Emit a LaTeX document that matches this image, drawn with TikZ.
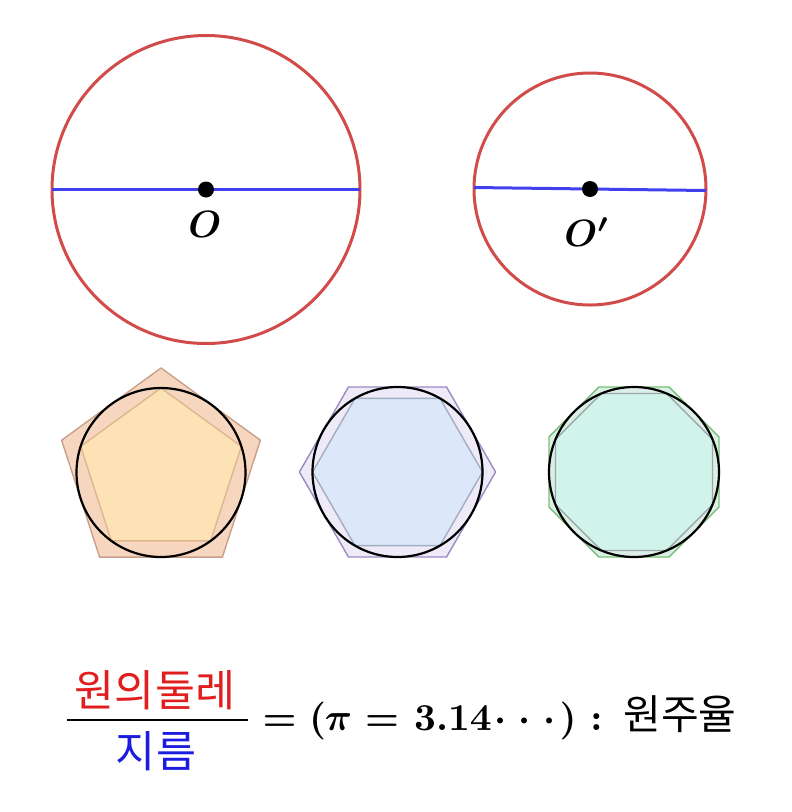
\documentclass[tikz,border=0pt]{standalone}
\usepackage{graphicx}
\usepackage{fontspec}
\newfontfamily\kr{Noto Sans CJK KR}
\definecolor{cred}{HTML}{D24B4B}
\definecolor{cblue}{HTML}{4040EE}
\definecolor{tred}{HTML}{E01E1E}
\definecolor{tblue}{HTML}{1C1CE0}
\definecolor{pOutF}{HTML}{F6D6BE}
\definecolor{pOutD}{HTML}{C9A08A}
\definecolor{pInF}{HTML}{FCE2B4}
\definecolor{pInD}{HTML}{DEB690}
\definecolor{hOutF}{HTML}{EEEAF8}
\definecolor{hOutD}{HTML}{9B8AC4}
\definecolor{hInF}{HTML}{DCE8FA}
\definecolor{hInD}{HTML}{A4ACC4}
\definecolor{oOutF}{HTML}{DCEFE6}
\definecolor{oOutD}{HTML}{78BE78}
\definecolor{oInF}{HTML}{D0F4EA}
\definecolor{oInD}{HTML}{9AA8A8}
\newcommand{\myBigMath}[1]{\scalebox{3.8}{\fontsize{10}{12}\selectfont\boldmath$#1$}}
\begin{document}
\begin{tikzpicture}[x=1pt,y=-1pt,
  bigcirc/.style={draw=cred,line width=3pt},
  diam/.style={draw=cblue,line width=3pt},
  ctr/.style={fill=black},
  inc/.style={draw=black,line width=2.2pt},
  poly/.style={line width=1.4pt,line join=miter},
  lbl/.style={inner sep=0pt},
  mth/.style={inner sep=0pt,anchor=base},
  kor/.style={inner sep=0pt,font=\fontsize{41}{44}\selectfont\kr},
  korf/.style={inner sep=0pt,font=\fontsize{43.5}{46}\selectfont\kr}]
\useasboundingbox (0,0) rectangle (792,812);
% top circles
\draw[bigcirc] (206,189.5) circle[radius=154];
\coordinate (a1) at (52,189.5);
\coordinate (a2) at (360,189.5);
\draw[diam] (a1) -- (a2);
\fill[ctr] (206,189.5) circle[radius=8];
\node[lbl] (lO) at (205,224) {\myBigMath{O}};
\draw[bigcirc] (590,189) circle[radius=116];
\coordinate (b1) at (474,187.5);
\coordinate (b2) at (706,190.5);
\draw[diam] (b1) -- (b2);
\fill[ctr] (590,189) circle[radius=8];
\node[lbl] (lO2) at (587,232) {\myBigMath{O'}};
% pentagon
\begin{scope}[shift={(161,472.5)}]
\filldraw[poly,fill=pOutF,draw=pOutD] (-90:104.5) \foreach \i in {1,...,4}{ -- (-90+72*\i:104.5)} -- cycle;
\filldraw[poly,fill=pInF,draw=pInD] (-90:84.5) \foreach \i in {1,...,4}{ -- (-90+72*\i:84.5)} -- cycle;
\draw[inc] (0,0) circle[radius=84.5];
\end{scope}
% hexagon
\begin{scope}[shift={(397.5,472)}]
\filldraw[poly,fill=hOutF,draw=hOutD] (0:98.1) \foreach \i in {1,...,5}{ -- (60*\i:98.1)} -- cycle;
\filldraw[poly,fill=hInF,draw=hInD] (0:85) \foreach \i in {1,...,5}{ -- (60*\i:85)} -- cycle;
\draw[inc] (0,0) circle[radius=85];
\end{scope}
% octagon
\begin{scope}[shift={(634,472)}]
\filldraw[poly,fill=oOutF,draw=oOutD] (22.5:92) \foreach \i in {1,...,7}{ -- (22.5+45*\i:92)} -- cycle;
\filldraw[poly,fill=oInF,draw=oInD] (22.5:85) \foreach \i in {1,...,7}{ -- (22.5+45*\i:85)} -- cycle;
\draw[inc] (0,0) circle[radius=85];
\end{scope}
% formula
\node[korf,text=tred] (num) at (155,690) {원의둘레};
\node[korf,text=tblue] (den) at (156,751) {지름};
\coordinate (f1) at (67,720);
\coordinate (f2) at (248,720);
\draw[line width=1.6pt] (f1) -- (f2);
\node[mth] (eq1) at (279.5,730) {\myBigMath{=}};
\node[mth] (lp) at (317.5,730) {\myBigMath{(}};
\node[mth] (pi) at (338.5,730) {\myBigMath{\pi}};
\node[mth] (eq2) at (382,730) {\myBigMath{=}};
\node[mth] (val) at (453,730) {\myBigMath{3.14}};
\node[mth] (dots) at (525,730) {\myBigMath{{\cdot}\mkern5mu{\cdot}\mkern5mu{\cdot}}};
\node[mth] (rp) at (568,730) {\myBigMath{)}};
\node[mth] (col) at (596.5,730) {\myBigMath{:}};
\node[kor] (wj) at (680,714) {원주율};
\end{tikzpicture}
\end{document}
